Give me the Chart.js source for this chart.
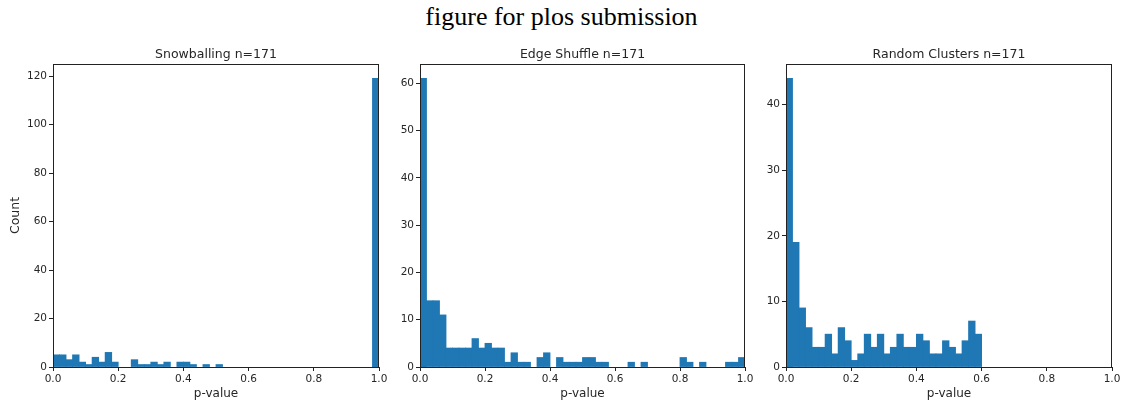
<!DOCTYPE html>
<html>
<head>
<meta charset="utf-8">
<script src="https://cdn.jsdelivr.net/npm/chart.js@4"></script>
<style>
  body { margin: 0; width: 1123px; height: 404px; background: #fff; position: relative; overflow: hidden; }
  #suptitle { position: absolute; left: 0; top: 2px; width: 1123px; text-align: center;
              font-family: "Liberation Serif", serif; font-size: 26px; color: #000; }
  .box { position: absolute; top: 40px; height: 364px; }
  .box canvas { display: block; }
</style>
</head>
<body>
<div id="suptitle">figure for plos submission</div>
<div class="box" style="left:0px;width:400px"><canvas id="c1"></canvas></div>
<div class="box" style="left:370px;width:400px"><canvas id="c2"></canvas></div>
<div class="box" style="left:736px;width:387px"><canvas id="c3"></canvas></div>
<script>
// histogramas: 50 intervalos de ancho 0.02 entre 0 y 1
const anchoBin = 0.02;
const inicioBins = Array.from({length: 50}, (_, i) => i * anchoBin);

const snowballing = [5,5,3,5,2,1,4,2,6,2, 0,0,3,1,1,2,1,2,0,2, 2,1,0,1,0,1,0,0,0,0,
                     0,0,0,0,0,0,0,0,0,0, 0,0,0,0,0,0,0,0,0,119];
const edgeShuffle = [61,14,14,11,4,4,4,4,6,4, 5,4,4,1,3,1,1,0,2,3, 0,2,1,1,1,2,2,1,1,0,
                     0,0,1,0,1,0,0,0,0,0, 2,1,0,1,0,0,0,1,1,2];
const randomClusters = [44,19,9,6,3,3,5,2,6,4, 1,2,5,3,5,2,3,5,3,3, 5,4,2,2,4,3,2,4,7,5,
                        0,0,0,0,0,0,0,0,0,0, 0,0,0,0,0,0,0,0,0,0];

const xTicks = [0.0, 0.2, 0.4, 0.6, 0.8, 1.0];
const colorBarra = '#1f77b4';
const colorTexto = '#262626';
const fuente = 'DejaVu Sans';

// marco completo de los ejes (estilo matplotlib)
const marco = {
  id: 'marco',
  afterDatasetsDraw(chart) {
    const {ctx, chartArea: a} = chart;
    ctx.save();
    ctx.strokeStyle = '#222';
    ctx.lineWidth = 1;
    ctx.strokeRect(Math.round(a.left) + 0.5, Math.round(a.top) + 0.5,
                   Math.round(a.right - a.left) - 1, Math.round(a.bottom - a.top));
    ctx.restore();
  }
};

function crearHistograma(id, titulo, cuentas, pasoY, anchoY, padDer, conTituloY) {
  // los intervalos vacíos no se dibujan
  const datos = inicioBins.map((x, i) => ({x: x + anchoBin / 2, y: cuentas[i] > 0 ? cuentas[i] : null}));
  const maxY = Math.max(...cuentas) * 1.05;
  return new Chart(document.getElementById(id), {
    type: 'bar',
    data: {
      datasets: [{
        label: titulo,
        data: datos,
        backgroundColor: colorBarra,
        borderWidth: 0,
        barPercentage: 1,
        categoryPercentage: 1,
        inflateAmount: 0.4
      }]
    },
    options: {
      responsive: true,
      maintainAspectRatio: false,
      animation: false,
      layout: { padding: { left: 0, right: padDer, top: 0, bottom: 0 } },
      plugins: {
        legend: { display: false },
        tooltip: { enabled: false },
        title: {
          display: true,
          fullSize: false,
          text: titulo,
          color: colorTexto,
          font: { family: fuente, size: 12.5, weight: 'normal' },
          padding: { top: 7, bottom: 2 }
        }
      },
      scales: {
        x: {
          type: 'linear',
          min: 0,
          max: 1,
          offset: false,
          afterBuildTicks: s => { s.ticks = xTicks.map(v => ({value: v})); },
          afterFit: s => { s.height = 37; },
          ticks: {
            color: colorTexto,
            font: { family: fuente, size: 10.5 },
            padding: 2,
            maxRotation: 0,
            callback: v => v.toFixed(1)
          },
          grid: { display: true, offset: false, drawOnChartArea: false, drawTicks: true, tickLength: 4, color: '#222' },
          border: { display: true, color: '#222' },
          title: {
            display: true,
            text: 'p-value',
            color: colorTexto,
            font: { family: fuente, size: 12 },
            padding: { top: 0, bottom: 3 }
          }
        },
        y: {
          min: 0,
          max: maxY,
          afterFit: s => { s.width = anchoY; },
          ticks: {
            stepSize: pasoY,
            includeBounds: false,
            color: colorTexto,
            font: { family: fuente, size: 10.5 },
            padding: 2
          },
          grid: { display: true, drawOnChartArea: false, drawTicks: true, tickLength: 4, color: '#222' },
          border: { display: true, color: '#222' },
          title: {
            display: conTituloY,
            text: 'Count',
            color: colorTexto,
            font: { family: fuente, size: 12.5 },
            padding: { top: 8, bottom: 0 }
          }
        }
      }
    },
    plugins: [marco]
  });
}

crearHistograma('c1', 'Snowballing n=171', snowballing, 20, 53, 21, true);
crearHistograma('c2', 'Edge Shuffle n=171', edgeShuffle, 10, 50, 25, false);
crearHistograma('c3', 'Random Clusters n=171', randomClusters, 10, 50, 11, false);
</script>
</body>
</html>
